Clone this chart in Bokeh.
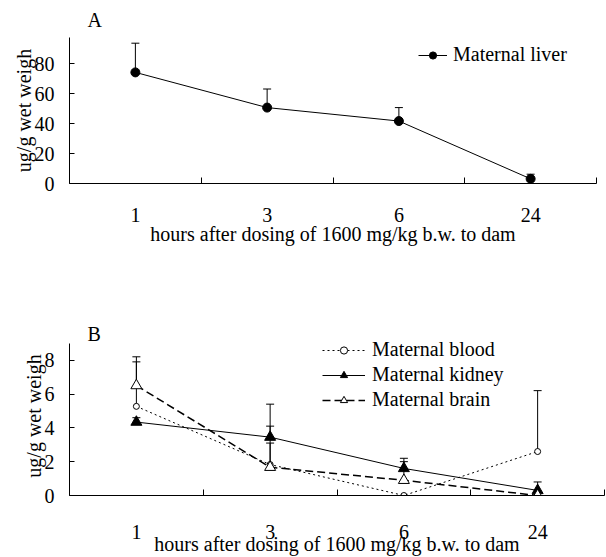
from bokeh.plotting import figure
from bokeh.models import (ColumnDataSource, FixedTicker, Legend, LegendItem,
                          Whisker, TeeHead, Range1d)
from bokeh.layouts import column
from bokeh.embed import file_html
from bokeh.resources import INLINE

# ---------------- data ----------------
hours = ["1", "3", "6", "24"]

liver = [74.2, 50.7, 41.7, 3.1]
liver_upper = [93.7, 63.1, 50.7, 6.2]

blood = [5.27, 1.83, 0.0, 2.6]
blood_upper = [7.9, 3.1, None, 6.2]
kidney = [4.34, 3.45, 1.6, 0.3]
kidney_upper = [4.6, 5.4, 2.2, 0.8]
brain = [6.5, 1.67, 0.9, 0.0]
brain_upper = [8.2, 4.1, 2.0, None]

y_ticks_a = [0, 20, 40, 60, 80]
y_ticks_b = [0, 2, 4, 6, 8]
y_axis_max_a = 97.5
y_axis_max_b = 9

x_title = "hours after dosing of 1600 mg/kg b.w. to dam"
y_title = "ug/g wet weigh"

FONT = "Liberation Serif"
FS = "20px"

xpos = [i + 0.5 for i in range(len(hours))]
bounds = list(range(len(hours) + 1))


def style(p, yticks, ymax, title_offset, title_standoff, xstandoff,
          xlabel_standoff):
    p.xgrid.visible = False
    p.ygrid.visible = False
    p.outline_line_color = None
    p.background_fill_color = "white"
    p.border_fill_color = "white"
    p.title.text_font = FONT
    p.title.text_font_size = FS
    p.title.text_font_style = "normal"
    p.title.text_color = "black"
    p.title.align = "left"
    p.title.offset = title_offset
    p.title.standoff = title_standoff

    xa = p.xaxis[0]
    xa.ticker = FixedTicker(ticks=xpos, minor_ticks=bounds)
    xa.major_label_overrides = {x: h for x, h in zip(xpos, hours)}
    xa.major_tick_line_color = None
    xa.major_tick_in = 0
    xa.major_tick_out = 0
    xa.minor_tick_in = 6
    xa.minor_tick_out = 0
    xa.minor_tick_line_color = "black"
    xa.axis_line_color = "black"
    xa.major_label_text_font = FONT
    xa.major_label_text_font_size = FS
    xa.major_label_text_color = "black"
    xa.major_label_standoff = xstandoff
    xa.axis_label = x_title
    xa.axis_label_text_font = FONT
    xa.axis_label_text_font_size = FS
    xa.axis_label_text_font_style = "normal"
    xa.axis_label_text_color = "black"
    xa.axis_label_standoff = xlabel_standoff

    ya = p.yaxis[0]
    ya.ticker = FixedTicker(ticks=yticks)
    ya.bounds = (0, ymax)
    ya.major_tick_in = 5
    ya.major_tick_out = 0
    ya.major_tick_line_color = "black"
    ya.minor_tick_line_color = None
    ya.axis_line_color = "black"
    ya.major_label_text_font = FONT
    ya.major_label_text_font_size = FS
    ya.major_label_text_color = "black"
    ya.major_label_standoff = 15
    ya.axis_label = y_title
    ya.axis_label_text_font = FONT
    ya.axis_label_text_font_size = FS
    ya.axis_label_text_font_style = "normal"
    ya.axis_label_text_color = "black"
    ya.axis_label_standoff = -3


def add_whisker(p, vals, uppers):
    xs, lo, up = [], [], []
    for x, v, u in zip(xpos, vals, uppers):
        if u is not None:
            xs.append(x)
            lo.append(v)
            up.append(u)
    src = ColumnDataSource(dict(x=xs, lower=lo, upper=up))
    w = Whisker(source=src, base="x", lower="lower", upper="upper",
                line_color="black", line_width=1,
                lower_head=None,
                upper_head=TeeHead(size=8, line_color="black", line_width=1))
    p.add_layout(w)


def legend_style(lg):
    lg.label_text_font = FONT
    lg.label_text_font_size = FS
    lg.label_text_color = "black"
    lg.padding = 0
    lg.margin = 0
    lg.border_line_color = None
    lg.background_fill_alpha = 0


# ---------------- Panel A ----------------
pA = figure(width=598, height=250, output_backend="svg", toolbar_location=None,
            x_range=Range1d(0, len(hours)), y_range=Range1d(0, y_axis_max_a),
            min_border_left=69, min_border_right=1, min_border_top=37,
            min_border_bottom=67, title="A")
style(pA, y_ticks_a, y_axis_max_a, 18, 13, 24, -2)

srcA = ColumnDataSource(dict(x=xpos, y=liver))
add_whisker(pA, liver, liver_upper)
lA = pA.line("x", "y", source=srcA, line_color="black", line_width=1)
sA = pA.scatter("x", "y", source=srcA, marker="circle", size=9,
                fill_color="black", line_color="black")
legA = Legend(items=[LegendItem(label="Maternal liver", renderers=[lA, sA])],
              location=(349, 117), glyph_width=29, glyph_height=18,
              label_standoff=6, label_height=18)
legend_style(legA)
pA.add_layout(legA)

# ---------------- Panel B ----------------
# frame is a little taller than the axis (axis bounded to 0..9) so the
# legend's first row is not clipped
pB = figure(width=606, height=307, output_backend="svg", toolbar_location=None,
            x_range=Range1d(0, len(hours)), y_range=Range1d(0, 9.4),
            min_border_left=69, min_border_right=2, min_border_top=86,
            min_border_bottom=62, title="B")
style(pB, y_ticks_b, y_axis_max_b, 18, -16, 29, -9)

srcBl = ColumnDataSource(dict(x=xpos, y=blood))
srcK = ColumnDataSource(dict(x=xpos, y=kidney))
srcBr = ColumnDataSource(dict(x=xpos, y=brain))

add_whisker(pB, blood, blood_upper)
add_whisker(pB, kidney, kidney_upper)
add_whisker(pB, brain, brain_upper)

lBl = pB.line("x", "y", source=srcBl, line_color="black", line_width=1,
              line_dash="2 3")
lK = pB.line("x", "y", source=srcK, line_color="black", line_width=1)
lBr = pB.line("x", "y", source=srcBr, line_color="black", line_width=1.5,
              line_dash="8 4")
sBl = pB.scatter("x", "y", source=srcBl, marker="circle", size=6,
                 fill_color="white", line_color="black")
sK = pB.scatter("x", "y", source=srcK, marker="triangle", size=11,
                fill_color="black", line_color="black")
sBr = pB.scatter("x", "y", source=srcBr, marker="triangle", size=11,
                 fill_color="white", line_color="black")

legB = Legend(items=[LegendItem(label="Maternal blood", renderers=[lBl, sBl]),
                     LegendItem(label="Maternal kidney", renderers=[lK, sK]),
                     LegendItem(label="Maternal brain", renderers=[lBr, sBr])],
              location=(253, 84), glyph_width=43, glyph_height=18,
              label_standoff=7, label_height=18, spacing=2)
legend_style(legB)
pB.add_layout(legB)

layout = column(pA, pB)
open("out.html", "w").write(file_html(layout, INLINE))
